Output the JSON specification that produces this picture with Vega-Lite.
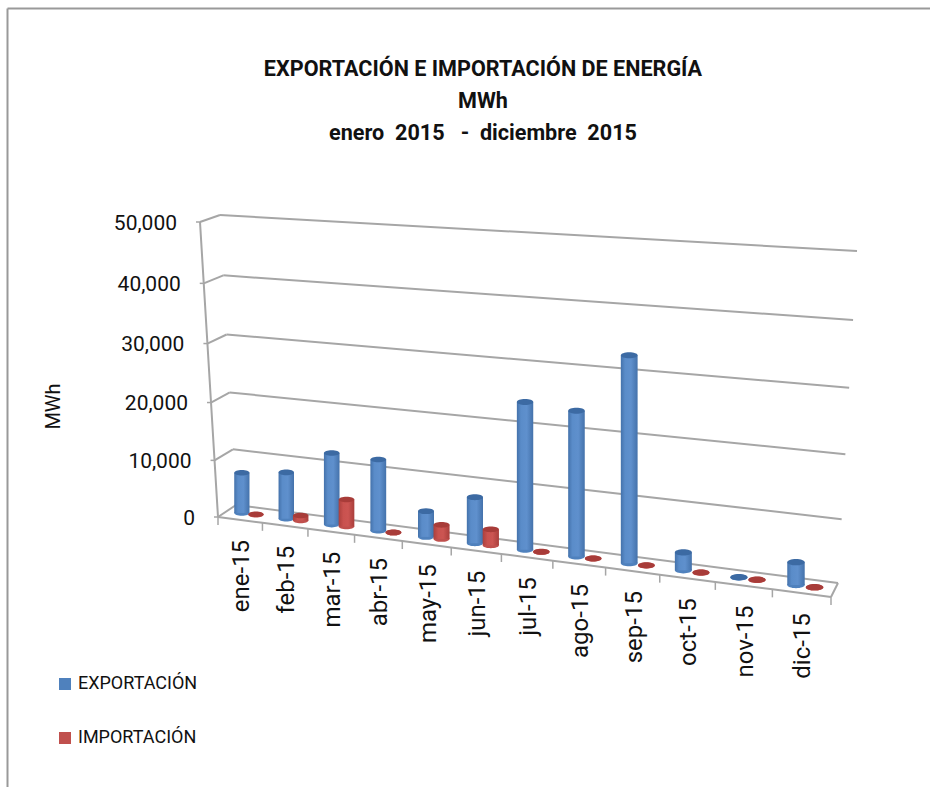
{
"$schema":"https://vega.github.io/schema/vega-lite/v6.json",
"width":923,"height":779,"autosize":"none",
"padding":{"left":7,"top":8,"right":0,"bottom":0},
"background":"white",
"title":{"text":["EXPORTACIÓN E IMPORTACIÓN DE ENERGÍA","MWh","enero\u00A0 2015 \u00A0 - \u00A0diciembre\u00A0 2015"],"anchor":"start","align":"center","frame":"group","dx":476,"dy":137,"offset":0,"baseline":"top","font":"Roboto","fontSize":21.6,"fontWeight":"bold","color":"#111111","lineHeight":32},
"config":{"view":{"stroke":null}},
"datasets":{
"grid":[{"valor":0},{"valor":10000},{"valor":20000},{"valor":30000},{"valor":40000},{"valor":50000}],
"limites":[{"limite":0},{"limite":1},{"limite":2},{"limite":3},{"limite":4},{"limite":5},{"limite":6},{"limite":7},{"limite":8},{"limite":9},{"limite":10},{"limite":11},{"limite":12}],
"valores":[
{"mes":"ene-15","serie":"EXPORTACIÓN","valor":7150},{"mes":"feb-15","serie":"EXPORTACIÓN","valor":8150},{"mes":"mar-15","serie":"EXPORTACIÓN","valor":12400},{"mes":"abr-15","serie":"EXPORTACIÓN","valor":12200},{"mes":"may-15","serie":"EXPORTACIÓN","valor":4400},{"mes":"jun-15","serie":"EXPORTACIÓN","valor":7750},{"mes":"jul-15","serie":"EXPORTACIÓN","valor":24200},{"mes":"ago-15","serie":"EXPORTACIÓN","valor":23600},{"mes":"sep-15","serie":"EXPORTACIÓN","valor":33000},{"mes":"oct-15","serie":"EXPORTACIÓN","valor":2900},{"mes":"nov-15","serie":"EXPORTACIÓN","valor":60},{"mes":"dic-15","serie":"EXPORTACIÓN","valor":3600},
{"mes":"ene-15","serie":"IMPORTACIÓN","valor":100},{"mes":"feb-15","serie":"IMPORTACIÓN","valor":900},{"mes":"mar-15","serie":"IMPORTACIÓN","valor":4700},{"mes":"abr-15","serie":"IMPORTACIÓN","valor":30},{"mes":"may-15","serie":"IMPORTACIÓN","valor":2400},{"mes":"jun-15","serie":"IMPORTACIÓN","valor":2700},{"mes":"jul-15","serie":"IMPORTACIÓN","valor":30},{"mes":"ago-15","serie":"IMPORTACIÓN","valor":30},{"mes":"sep-15","serie":"IMPORTACIÓN","valor":30},{"mes":"oct-15","serie":"IMPORTACIÓN","valor":30},{"mes":"nov-15","serie":"IMPORTACIÓN","valor":30},{"mes":"dic-15","serie":"IMPORTACIÓN","valor":30}
]},
"encoding":{
"x":{"type":"quantitative","scale":{"domain":[7,930]},"axis":{"orient":"top","title":null,"labels":false,"ticks":false,"grid":false,"domainColor":"#999999","domainWidth":2}},
"y":{"type":"quantitative","scale":{"domain":[787,8]},"axis":{"orient":"left","title":"MWh","titleX":46,"titleY":398,"titleAngle":-90,"titleAlign":"center","titleBaseline":"middle","titleFont":"Roboto","titleFontSize":20,"titleFontWeight":"normal","titleColor":"#111111","labels":false,"ticks":false,"grid":false,"domainColor":"#999999","domainWidth":2}}
},
"layer":[
{"data":{"name":"grid"},
 "transform":[{"calculate":"datum.valor/50000","as":"u"},{"calculate":"datum.u*(0.95+0.05*datum.u)","as":"w"},
  {"calculate":"236-16*datum.w","as":"xb"},{"calculate":"505-290*datum.w","as":"yb"},
  {"calculate":"838+19*datum.w","as":"xr"},{"calculate":"583-332*datum.w","as":"yr"},
  {"calculate":"218-18*datum.w","as":"xf"},{"calculate":"517-295*datum.w","as":"yf"},
  {"calculate":"datum.xf-4","as":"xt"},{"calculate":"datum.xf-23","as":"xl"},{"calculate":"datum.yf+1.5","as":"yl"}],
 "layer":[
  {"mark":{"type":"rule","stroke":"#a6a6a6","strokeWidth":2},"encoding":{"x":{"field":"xb"},"y":{"field":"yb"},"x2":{"field":"xr"},"y2":{"field":"yr"}}},
  {"mark":{"type":"rule","stroke":"#a6a6a6","strokeWidth":2},"encoding":{"x":{"field":"xf"},"y":{"field":"yf"},"x2":{"field":"xb"},"y2":{"field":"yb"}}},
  {"mark":{"type":"rule","stroke":"#a6a6a6","strokeWidth":1.5},"encoding":{"x":{"field":"xt"},"y":{"field":"yf"},"x2":{"field":"xf"},"y2":{"field":"yf"}}},
  {"mark":{"type":"line","stroke":"#a6a6a6","strokeWidth":2},"encoding":{"x":{"field":"xf"},"y":{"field":"yf"},"order":{"field":"valor","type":"quantitative"}}},
  {"mark":{"type":"text","align":"right","baseline":"middle","font":"Roboto","fontSize":21,"color":"#111111"},"encoding":{"x":{"field":"xl"},"y":{"field":"yl"},"text":{"field":"valor","type":"quantitative","format":","}}}
 ]},
{"data":{"name":"limites"},
 "transform":[{"calculate":"datum.limite/12","as":"t"},{"calculate":"datum.t/(datum.t+1.163*(1-datum.t))","as":"p"},
  {"calculate":"218+613*datum.p","as":"xe"},{"calculate":"517+80*datum.p","as":"ye"},{"calculate":"datum.ye+8","as":"yt"}],
 "layer":[
  {"mark":{"type":"line","stroke":"#a6a6a6","strokeWidth":2},"encoding":{"x":{"field":"xe"},"y":{"field":"ye"},"order":{"field":"limite","type":"quantitative"}}},
  {"mark":{"type":"rule","stroke":"#a6a6a6","strokeWidth":1.5},"encoding":{"x":{"field":"xe"},"y":{"field":"ye"},"y2":{"field":"yt"}}},
  {"transform":[{"filter":"datum.limite===12"},{"calculate":"838","as":"xs"},{"calculate":"583","as":"ys"}],
   "mark":{"type":"rule","stroke":"#a6a6a6","strokeWidth":2},"encoding":{"x":{"field":"xe"},"y":{"field":"ye"},"x2":{"field":"xs"},"y2":{"field":"ys"}}}
 ]},
{"data":{"name":"valores"},
 "transform":[
  {"calculate":"indexof(['ene-15','feb-15','mar-15','abr-15','may-15','jun-15','jul-15','ago-15','sep-15','oct-15','nov-15','dic-15'],datum.mes)","as":"n"},
  {"calculate":"(datum.n+0.5+(datum.serie==='EXPORTACIÓN'?-0.16:0.16))/12","as":"t"},
  {"calculate":"datum.t/(datum.t+1.163*(1-datum.t))","as":"p"},
  {"calculate":"datum.valor/50000","as":"u"},{"calculate":"datum.u*(0.95+0.05*datum.u)","as":"w"},
  {"calculate":"227+607.5*datum.p","as":"sx"},
  {"calculate":"7.6+1.2*datum.p","as":"half"},
  {"calculate":"4*datum.half*datum.half","as":"sz"},
  {"calculate":"datum.sx-datum.half","as":"x0"},{"calculate":"datum.sx+datum.half","as":"x1"},
  {"calculate":"511+79*datum.p","as":"by"},
  {"calculate":"datum.by-(292.5+42.5*datum.p)*datum.w","as":"ty"}],
 "layer":[
  {"mark":{"type":"point","filled":true,"opacity":1,"strokeWidth":0,"shape":"M -1 0 A 1 0.36 0 1 0 1 0 A 1 0.36 0 1 0 -1 0 Z"},
   "encoding":{"x":{"field":"sx"},"y":{"field":"by"},"size":{"field":"sz","type":"quantitative","scale":null},
    "color":{"field":"serie","type":"nominal","scale":{"domain":["EXPORTACIÓN","IMPORTACIÓN"],"range":["#4F81BD","#C0504D"]},
     "legend":{"title":null,"orient":"none","legendX":49,"legendY":667,"symbolType":"square","symbolSize":144,"symbolStrokeWidth":0,"symbolOpacity":1,"labelFont":"Roboto","labelFontSize":18,"labelColor":"#111111","rowPadding":36,"labelOffset":4,"labelLimit":200,"padding":0}}}},
  {"transform":[{"filter":"datum.serie==='EXPORTACIÓN'"}],
   "mark":{"type":"rect","fill":{"gradient":"linear","x1":0,"y1":0,"x2":1,"y2":0,"stops":[{"offset":0,"color":"#4472ab"},{"offset":0.25,"color":"#5a8cc9"},{"offset":0.6,"color":"#5f90cd"},{"offset":1,"color":"#4472ab"}]}},
   "encoding":{"x":{"field":"x0"},"x2":{"field":"x1"},"y":{"field":"ty"},"y2":{"field":"by"}}},
  {"transform":[{"filter":"datum.serie==='EXPORTACIÓN'"}],
   "mark":{"type":"point","filled":true,"opacity":1,"strokeWidth":0,"fill":"#3c6aa3","shape":"M -1 0 A 1 0.36 0 1 0 1 0 A 1 0.36 0 1 0 -1 0 Z"},
   "encoding":{"x":{"field":"sx"},"y":{"field":"ty"},"size":{"field":"sz","type":"quantitative","scale":null}}},
  {"transform":[{"filter":"datum.serie==='IMPORTACIÓN'"}],
   "mark":{"type":"rect","fill":{"gradient":"linear","x1":0,"y1":0,"x2":1,"y2":0,"stops":[{"offset":0,"color":"#ac403d"},{"offset":0.3,"color":"#c9524f"},{"offset":0.6,"color":"#cc5552"},{"offset":1,"color":"#a93e3b"}]}},
   "encoding":{"x":{"field":"x0"},"x2":{"field":"x1"},"y":{"field":"ty"},"y2":{"field":"by"}}},
  {"transform":[{"filter":"datum.serie==='IMPORTACIÓN'"}],
   "mark":{"type":"point","filled":true,"opacity":1,"strokeWidth":0,"fill":"#a83c39","shape":"M -1 0 A 1 0.36 0 1 0 1 0 A 1 0.36 0 1 0 -1 0 Z"},
   "encoding":{"x":{"field":"sx"},"y":{"field":"ty"},"size":{"field":"sz","type":"quantitative","scale":null}}},
  {"transform":[{"filter":"datum.serie==='EXPORTACIÓN'"},
    {"calculate":"(datum.n+0.5)/12","as":"tm"},{"calculate":"datum.tm/(datum.tm+1.163*(1-datum.tm))","as":"pm"},
    {"calculate":"220+613*datum.pm","as":"xm"},{"calculate":"537+80*datum.pm","as":"ym"}],
   "mark":{"type":"text","angle":270,"align":"right","baseline":"middle","font":"Roboto","fontSize":24,"color":"#111111"},
   "encoding":{"x":{"field":"xm"},"y":{"field":"ym"},"text":{"field":"mes","type":"nominal"}}}
 ]}
]
}
